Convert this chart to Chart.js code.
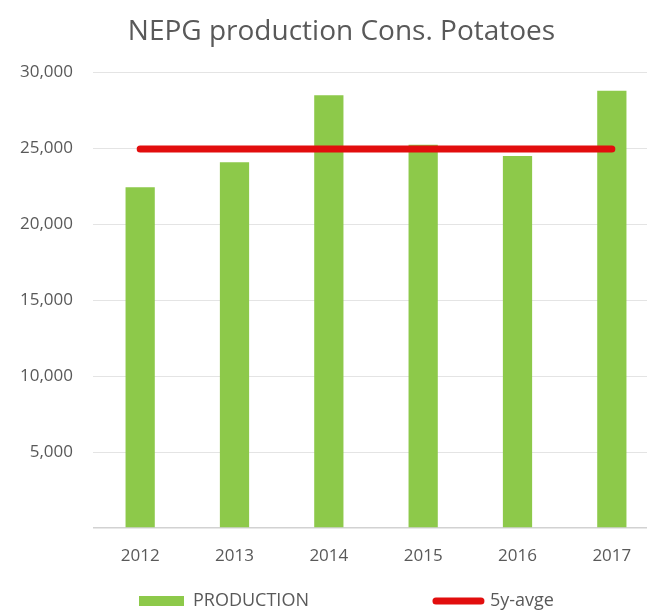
<!DOCTYPE html>
<html>
<head>
<meta charset="utf-8">
<title>NEPG production Cons. Potatoes</title>
<script src="https://cdn.jsdelivr.net/npm/chart.js@4"></script>
<style>
    html, body { margin: 0; padding: 0; background: #FFFFFF; overflow: hidden; }
    #wrap { width: 669px; height: 610px; position: relative; }
</style>
</head>
<body>
<div id="wrap"><canvas id="chart"></canvas></div>
<script>
// Data
const years = ['2012', '2013', '2014', '2015', '2016', '2017'];
const production = [22450, 24100, 28500, 25250, 24500, 28800];
const fiveYearAvg = [24960, 24960, 24960, 24960, 24960, 24960];
const yTicks = [0, 5000, 10000, 15000, 20000, 25000, 30000];

const Colors = {
    bar: '#8DC94A',
    line: '#E20E0E',
    text: '#595959',
    grid: '#E4E4E4',
    axis: '#D2D2D2',
};

const FONT = '"Open Sans", "Noto Sans", sans-serif';
const LEGEND_GAP = 127;

// Chart.js uses the legend item gap as vertical padding too, and wraps the
// row when the gap is wide -> put the row back where the reference has it.
// The title is nudged to sit over the (clipped) original chart centre.
const legendRow = {
    id: 'legendRow',
    afterLayout(chart) {
        chart.legend.top = 592 - LEGEND_GAP;
        chart.legend.right = chart.legend.left + 2000;
        chart.titleBlock.left += 6;
        chart.titleBlock.right += 6;
    },
};

new Chart(document.getElementById('chart'), {
    type: 'bar',
    data: {
        labels: years,
        datasets: [
            {
                type: 'line',
                label: '5y-avge',
                data: fiveYearAvg,
                borderColor: Colors.line,
                backgroundColor: Colors.line,
                borderWidth: 7,
                borderCapStyle: 'round',
                pointRadius: 0,
                pointHoverRadius: 0,
                fill: false,
            },
            {
                label: 'PRODUCTION',
                data: production,
                backgroundColor: Colors.bar,
                categoryPercentage: 1,
                barPercentage: 0.31,
            },
        ],
    },
    plugins: [legendRow],
    options: {
        responsive: true,
        maintainAspectRatio: false,
        animation: false,
        layout: { padding: { left: 12, right: 10, top: 0, bottom: 0 } },
        plugins: {
            title: {
                display: true,
                text: 'NEPG production Cons. Potatoes',
                color: Colors.text,
                font: { family: FONT, size: 28, weight: 'normal' },
                padding: { top: 15, bottom: 24 },
            },
            legend: {
                position: 'bottom',
                align: 'start',
                maxHeight: 40,
                labels: {
                    color: Colors.text,
                    font: { family: FONT, size: 18 },
                    padding: LEGEND_GAP,
                    boxHeight: 10,
                    usePointStyle: true,
                    pointStyleWidth: 45,
                    sort: (a, b) => b.datasetIndex - a.datasetIndex,
                    generateLabels: (chart) => Chart.defaults.plugins.legend.labels
                        .generateLabels(chart)
                        .map((item) => item.datasetIndex === 0
                            ? { ...item, pointStyle: 'line', lineWidth: 7, lineCap: 'round', strokeStyle: Colors.line }
                            : { ...item, pointStyle: 'rect', lineWidth: 0 }),
                },
            },
            tooltip: { enabled: true },
        },
        scales: {
            x: {
                grid: { display: false },
                border: { display: false },
                ticks: {
                    color: Colors.text,
                    font: { family: FONT, size: 17 },
                    padding: 10,
                },
                afterFit: (scale) => { scale.height = 42; },
            },
            y: {
                min: 0,
                max: 30000,
                afterBuildTicks: (scale) => { scale.ticks = yTicks.map((v) => ({ value: v })); },
                grid: {
                    drawTicks: false,
                    color: (ctx) => ctx.tick && ctx.tick.value === 0 ? Colors.axis : Colors.grid,
                    lineWidth: (ctx) => ctx.tick && ctx.tick.value === 0 ? 1.5 : 1,
                },
                border: { display: false },
                ticks: {
                    color: Colors.text,
                    font: { family: FONT, size: 17 },
                    padding: 20,
                    // the reference leaves the zero line unlabelled
                    callback: (v) => v === 0 ? '' : v.toLocaleString('en-US'),
                },
                afterFit: (scale) => { scale.width = 81; },
            },
        },
    },
});
</script>
</body>
</html>
